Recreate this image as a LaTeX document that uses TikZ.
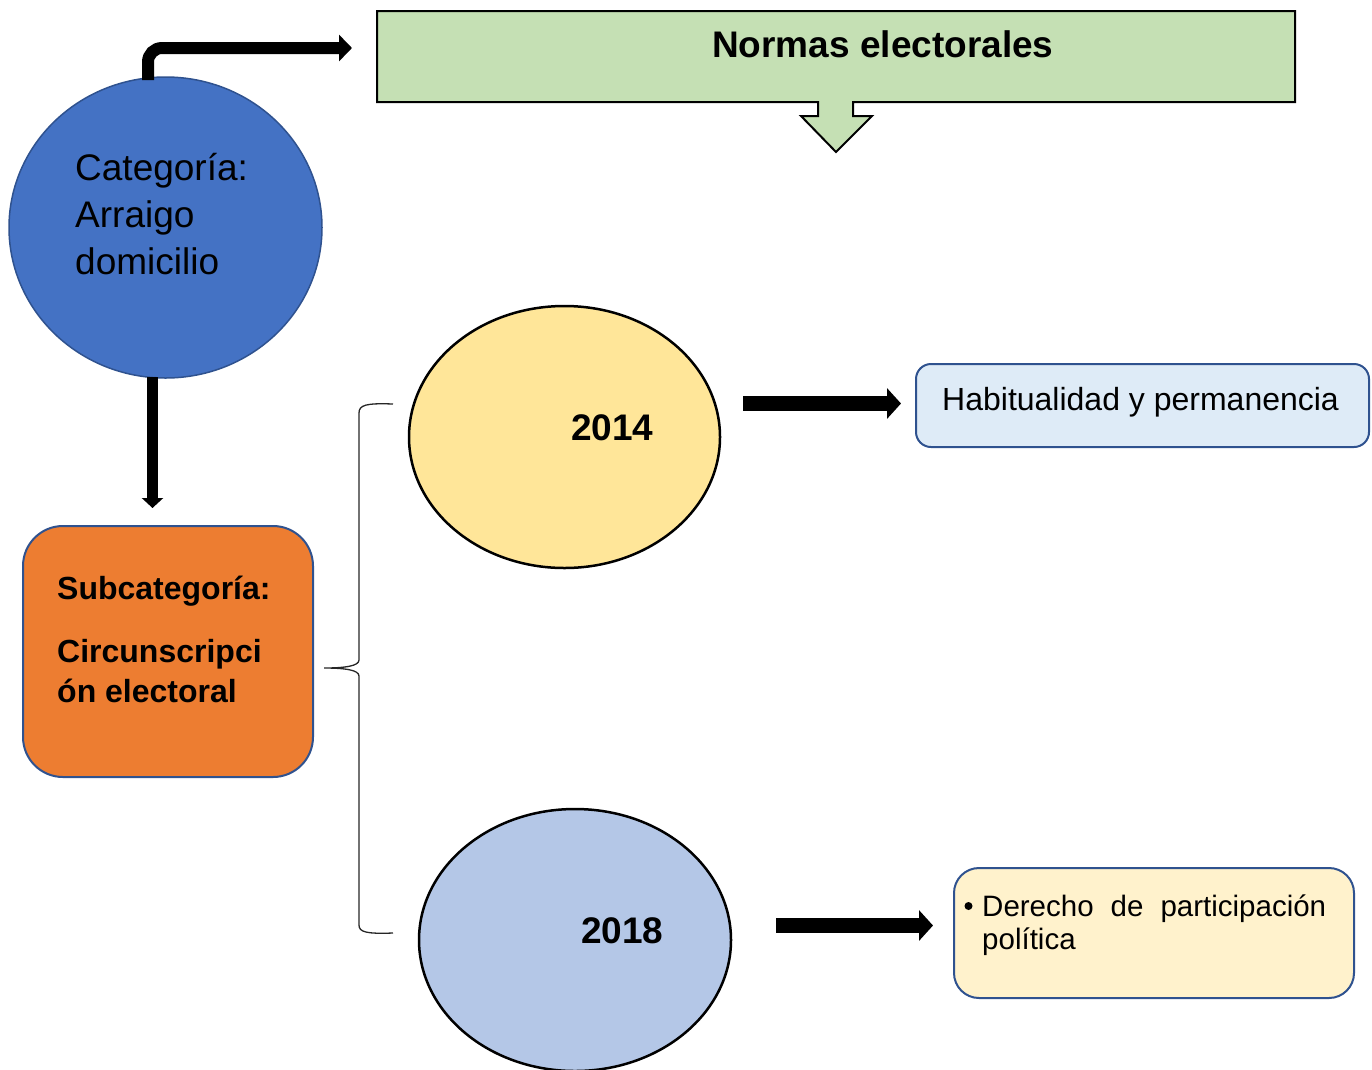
\documentclass[tikz,border=0pt]{standalone}
\usepackage{fontspec}
\setmainfont{Liberation Sans}
\usetikzlibrary{arrows.meta,shapes.geometric}
\definecolor{cblue}{HTML}{4472C4}
\definecolor{cborder}{HTML}{2F528F}
\definecolor{corange}{HTML}{ED7D31}
\definecolor{cgreen}{HTML}{C5E0B4}
\definecolor{cyellow}{HTML}{FFE699}
\definecolor{clblue}{HTML}{B4C7E7}
\definecolor{cpale}{HTML}{DEEBF7}
\definecolor{ccream}{HTML}{FFF2CC}
\tikzset{
  big/.style={font=\fontsize{37}{47}\selectfont},
  bigb/.style={font=\fontsize{37}{47}\selectfont\bfseries},
  mid/.style={font=\fontsize{32}{37}\selectfont},
  midb/.style={font=\fontsize{32}{37}\selectfont\bfseries},
  small/.style={font=\fontsize{29.5}{34}\selectfont},
  txt/.style={inner sep=0pt, anchor=base west},
  fatarrow/.style={line width=15pt, -{Triangle[length=14pt,width=30pt]}},
  oval/.style={ellipse, draw=black, line width=2.5pt, inner sep=0pt},
  infobox/.style={draw=cborder, line width=2pt, inner sep=0pt},
}
\begin{document}
\begin{tikzpicture}[x=1pt,y=-1pt]
\useasboundingbox (0,0) rectangle (1372,1069);
% category circle
\node[ellipse, fill=cblue, draw=cborder, line width=1.5pt, minimum width=313pt, minimum height=301pt, inner sep=0pt] (cat) at (165.5,227.5) {};
\node[txt,big] (c1) at (75,180) {Categoría:};
\node[txt,big] (c2) at (75,227) {Arraigo};
\node[txt,big] (c3) at (75,274) {domicilio};
% callout box
\draw[fill=cgreen, draw=black, line width=2pt] (377,11) -- (1295,11) -- (1295,102) -- (853,102) -- (853,116) -- (872,116) -- (836,152) -- (801,116) -- (818,116) -- (818,102) -- (377,102) -- cycle;
\node[inner sep=0pt, minimum width=918pt, minimum height=91pt] (norm) at (836,56.5) {};
\node[txt,bigb] (normt) at (712,57) {Normas electorales};
% top arrow
\coordinate (ta) at (148,80);
\coordinate (tb) at (352,48);
\draw[line width=12pt, rounded corners=14pt, -{Triangle[length=13pt,width=26pt]}] (ta) |- (tb);
% subcategory box
\node[fill=corange, draw=cborder, line width=2pt, rounded corners=40pt, minimum width=290pt, minimum height=251pt, inner sep=0pt] (sub) at (168,651.5) {};
\node[txt,midb] (s1) at (57,599) {Subcategoría:};
\node[txt,midb] (s2) at (57,662) {Circunscripci};
\node[txt,midb] (s3) at (57,702) {ón electoral};
% down arrow
\coordinate (da) at (152.5,377);
\coordinate (db) at (152.5,508);
\draw[line width=11pt, -{Triangle[length=10pt,width=21pt]}] (da) -- (db);
% brace
\coordinate (bt) at (393,404);
\coordinate (bm) at (324,668);
\coordinate (bb) at (393,933);
\draw[line width=1.3pt, draw=black!85] (bt) .. controls (366,403) and (359,405) .. (359,413) -- (359,660) .. controls (359,666) and (345,668) .. (bm) .. controls (345,668) and (359,670) .. (359,676) -- (359,925) .. controls (359,932) and (366,934) .. (bb);
% 2014
\node[oval, fill=cyellow, minimum width=311pt, minimum height=262pt] (y14) at (564.5,437) {};
\node[txt,bigb] (y14t) at (571,440) {2014};
\coordinate (a14s) at (743,403.5);
\coordinate (a14e) at (901,403.5);
\draw[fatarrow] (a14s) -- (a14e);
\node[infobox, fill=cpale, rounded corners=15pt, minimum width=453pt, minimum height=83pt] (hab) at (1142.5,405.5) {};
\node[txt,mid] (habt) at (942,410) {Habitualidad y permanencia};
% 2018
\node[oval, fill=clblue, minimum width=312pt, minimum height=262pt] (y18) at (575,940) {};
\node[txt,bigb] (y18t) at (581,943) {2018};
\coordinate (a18s) at (776,925.5);
\coordinate (a18e) at (933,925.5);
\draw[fatarrow] (a18s) -- (a18e);
\node[infobox, fill=ccream, rounded corners=25pt, minimum width=400pt, minimum height=130pt] (der) at (1154,933) {};
\node[circle, fill=black, inner sep=0pt, minimum size=8pt] (bul) at (968.5,906) {};
\node[txt,small] (d1) at (982,916) {\hbox to 344pt{Derecho\hfill de\hfill participación}};
\node[txt,small] (d2) at (982,949) {política};
\end{tikzpicture}
\end{document}
